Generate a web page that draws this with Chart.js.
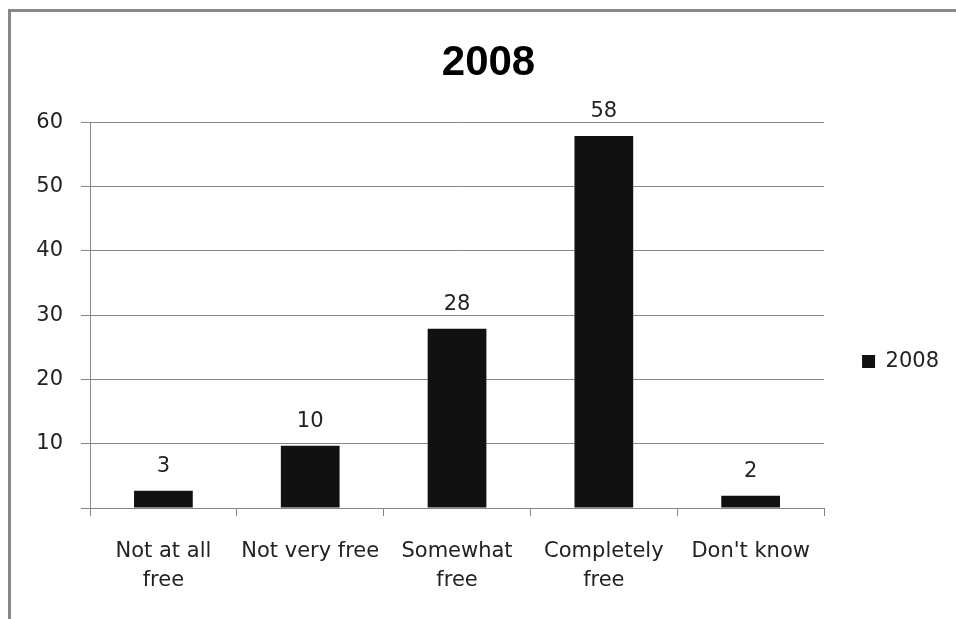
<!DOCTYPE html>
<html>
<head>
  <meta charset="UTF-8">
  <title>2008</title>
  <script src="https://cdn.jsdelivr.net/npm/chart.js"></script>
  <style>
    html, body {
      margin: 0;
      padding: 0;
      background: #ffffff;
      overflow: hidden;
      width: 956px;
      height: 619px;
    }
    .frame {
      position: absolute;
      left: 8px;
      top: 9px;
      border-left: 3px solid #888888;
      border-top: 3px solid #888888;
      width: 955px;
      height: 607px;
    }
    .frame canvas {
      display: block;
    }
  </style>
</head>
<body>
  <div class="frame">
    <canvas id="chart" width="955" height="607"></canvas>
  </div>

  <script>
    // values (bars sit a little under the printed labels)
    const categories = [["Not at all", "free"], "Not very free", ["Somewhat", "free"], ["Completely", "free"], "Don't know"];
    const values2008 = [2.7, 9.7, 27.9, 57.9, 1.9];
    const seriesName = "2008";
    const yTicks = [10, 20, 30, 40, 50, 60];

    const FONT = "'DejaVu Sans', sans-serif";
    const gridGray = "#868686";

    // labels above each bar
    const barLabels = {
      id: 'barLabels',
      afterDatasetsDraw(chart) {
        const ctx = chart.ctx;
        const meta = chart.getDatasetMeta(0);
        ctx.save();
        ctx.font = "21px " + FONT;
        ctx.fillStyle = "#222222";
        ctx.textAlign = "center";
        ctx.textBaseline = "alphabetic";
        meta.data.forEach((bar, i) => {
          ctx.fillText(String(Math.round(values2008[i])), bar.x, bar.y - 19);
        });
        ctx.restore();
      }
    };

    const ctx = document.getElementById('chart').getContext('2d');
    const chart = new Chart(ctx, {
      type: 'bar',
      data: {
        labels: categories,
        datasets: [{
          label: seriesName,
          data: values2008,
          backgroundColor: '#111111',
          borderWidth: 0,
          categoryPercentage: 0.8,
          barPercentage: 0.5
        }]
      },
      options: {
        responsive: false,
        animation: false,
        layout: {
          padding: { left: 17, right: 17, top: 0, bottom: 25 }
        },
        plugins: {
          title: {
            display: true,
            text: '2008',
            color: '#000000',
            font: { family: "'Liberation Sans', sans-serif", size: 42, weight: 'bold', lineHeight: 1.2 },
            padding: { top: 26, bottom: 34 }
          },
          legend: {
            position: 'right',
            align: 'center',
            title: {
              display: true,
              text: '',
              font: { size: 10, lineHeight: 1.7 },
              padding: { top: 50, bottom: 50 }
            },
            labels: {
              boxWidth: 13,
              boxHeight: 13,
              padding: 38,
              color: '#222222',
              font: { family: FONT, size: 21 }
            }
          },
          tooltip: { enabled: false }
        },
        scales: {
          x: {
            grid: {
              offset: true,
              drawOnChartArea: false,
              drawTicks: true,
              tickLength: 8,
              color: gridGray
            },
            border: { display: true, color: gridGray, width: 1 },
            ticks: {
              color: '#222222',
              padding: 21,
              maxRotation: 0,
              autoSkip: false,
              font: { family: FONT, size: 21, lineHeight: 1.38 }
            },
            afterFit(scale) { scale.height = 86; }
          },
          y: {
            min: 0,
            max: 60,
            afterBuildTicks(scale) {
              scale.ticks = [0].concat(yTicks).map(v => ({ value: v }));
            },
            grid: {
              color: gridGray,
              tickLength: 9,
              drawTicks: true
            },
            border: { display: true, color: gridGray, width: 1 },
            ticks: {
              color: '#222222',
              padding: 18,
              font: { family: FONT, size: 21 },
              callback: (v) => (v === 0 ? '' : v)
            },
            afterFit(scale) { scale.width = 62; }
          }
        }
      },
      plugins: [barLabels]
    });
  </script>
</body>
</html>
